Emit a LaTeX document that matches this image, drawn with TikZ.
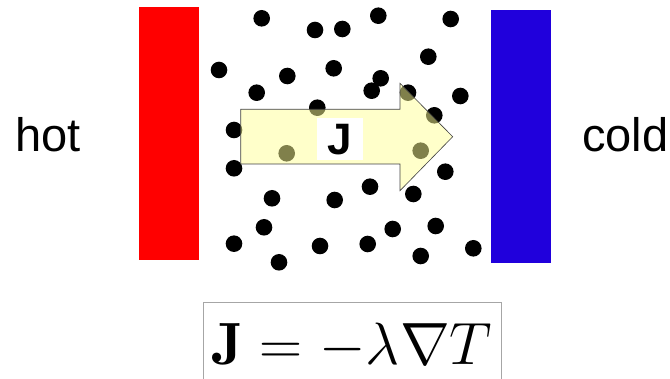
\documentclass[tikz,border=0pt]{standalone}
\usepackage{fontspec}
\newfontfamily\arialfont{Liberation Sans}
\definecolor{hotred}{RGB}{255,0,0}
\definecolor{coldblue}{RGB}{32,0,220}
\definecolor{arrowfill}{RGB}{255,255,150}
\tikzset{
  dot/.style={circle, fill=black, inner sep=0pt, minimum size=16.6pt},
  wall/.style={draw=none, inner sep=0pt, anchor=north west},
  sidelabel/.style={font=\arialfont\fontsize{47}{49}\selectfont, inner sep=0pt, anchor=base west},
  fluxarrow/.style={fill=arrowfill, fill opacity=0.5, draw=black!75, line width=0.6pt},
  fluxlabel/.style={fill=white, inner sep=0pt, minimum width=46.6pt, minimum height=41.7pt, font=\arialfont\bfseries\fontsize{44}{46}\selectfont},
  formulabox/.style={draw=black!35, line width=0.8pt, fill=white}
}
\begin{document}
\begin{tikzpicture}[x=1pt,y=-1pt]
\useasboundingbox (0,0) rectangle (670,379);
% walls
\node[wall, fill=hotred, minimum width=60pt, minimum height=253.3pt] (hotwall) at (138.3,6.7) {};
\node[wall, fill=coldblue, minimum width=60pt, minimum height=253.3pt] (coldwall) at (491,10) {};
% labels
\node[sidelabel] (hot) at (15.5,151.7) {hot};
\node[sidelabel] (cold) at (582,151.7) {cold};
% particles
\foreach [count=\i] \x/\y in {
 261.7/18.3, 315/30, 342.3/29, 378.3/15.7, 450.7/19,
 219/70, 287.3/76, 333.7/68.3, 380.7/78.3, 428.3/56.7,
 256.7/92.7, 371.7/90.7, 408/92.7, 460.3/96, 317.3/107.7,
 434.3/115.3, 234/130, 286.7/153.3, 420.7/150.7, 234/168.3,
 445.3/171.7, 370/186.7, 413.3/194, 272/198.3, 334.7/200,
 264/227.3, 392.7/229, 435.7/226, 234/243.7, 320/246,
 367.7/244, 473.3/248.3, 279/262.3, 420.7/256}
 \node[dot] (d\i) at (\x,\y) {};
% flux arrow
\coordinate (a1) at (240.7,109.3);
\coordinate (a2) at (400,109.3);
\coordinate (a3) at (400,83.3);
\coordinate (tip) at (452.7,136.7);
\coordinate (a5) at (400,190.7);
\coordinate (a6) at (400,164);
\coordinate (a7) at (240.7,164);
\draw[fluxarrow] (a1) -- (a2) -- (a3) -- (tip) -- (a5) -- (a6) -- (a7) -- cycle;
\node[fluxlabel] (J) at (340,139.2) {J};
% formula
\draw[formulabox] (203.3,302.7) rectangle (501.7,390);
\node[anchor=base west, inner sep=0pt, scale=2.40] (law) at (212,364.5) {\Huge $\mathbf{J}=-\lambda\nabla T$};
\end{tikzpicture}
\end{document}
